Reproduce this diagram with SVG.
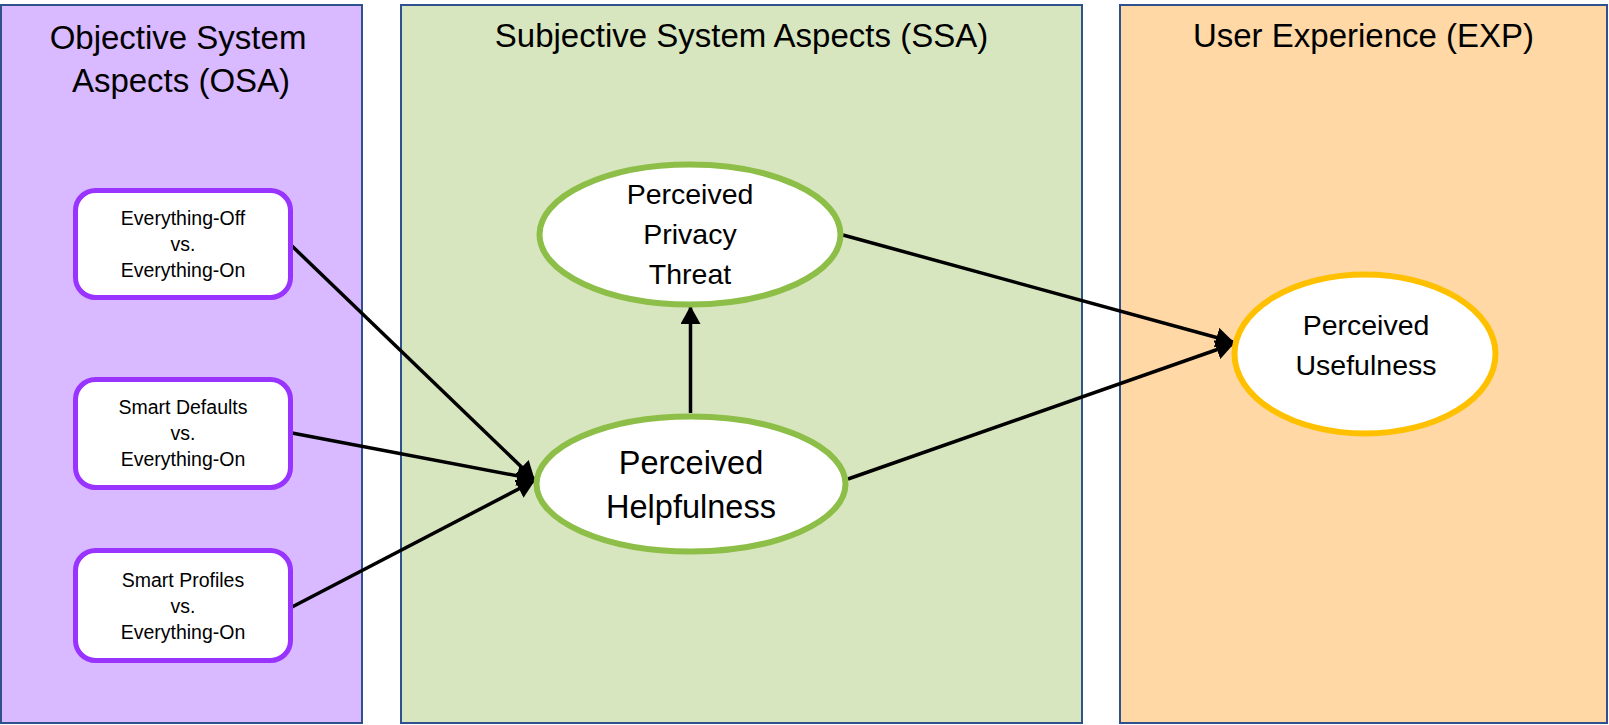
<svg xmlns="http://www.w3.org/2000/svg" width="1609" height="725" viewBox="0 0 1609 725">
<style>
.panel{stroke:#2F528F;stroke-width:2}
.title{font-family:"Liberation Sans",Arial,sans-serif;font-size:33px;fill:#000;text-anchor:middle}
.box{fill:#fff;stroke:#9933FF;stroke-width:5}
.btxt{font-family:"Liberation Sans",Arial,sans-serif;font-size:19.5px;fill:#000;text-anchor:middle}
.ell{fill:#fff;stroke:#8DBE48;stroke-width:6}
.ell2{fill:#fff;stroke:#FFC000;stroke-width:6}
.etxt{font-family:"Liberation Sans",Arial,sans-serif;fill:#000;text-anchor:middle}
.conn{stroke:#000;stroke-width:3.5;fill:none;marker-end:url(#ah)}
</style>
<defs>
<marker id="ah" viewBox="0 0 18 20" refX="17" refY="10" markerWidth="18" markerHeight="20" markerUnits="userSpaceOnUse" orient="auto">
<path d="M0,0 L18,10 L0,20 z" fill="#000"/>
</marker>
</defs>
<rect width="1609" height="725" fill="#fff"/>
<g id="panel-osa">
<rect class="panel" x="1" y="5" width="361" height="718" fill="#D9B9FF"/>
<text class="title" x="178" y="49">Objective System</text>
<text class="title" x="181" y="92">Aspects (OSA)</text>
</g>
<g id="panel-ssa">
<rect class="panel" x="401" y="5" width="681" height="718" fill="#D8E6BF"/>
<text class="title" x="741.5" y="47">Subjective System Aspects (SSA)</text>
</g>
<g id="panel-exp">
<rect class="panel" x="1120" y="5" width="487" height="718" fill="#FFD8A6"/>
<text class="title" x="1363.5" y="47">User Experience (EXP)</text>
</g>
<g id="connectors">
<line class="conn" x1="292" y1="246" x2="534" y2="479"/>
<line class="conn" x1="292" y1="433" x2="534" y2="479"/>
<line class="conn" x1="292" y1="607" x2="534" y2="481"/>
<line class="conn" x1="690.5" y1="413" x2="690.5" y2="307"/>
<line class="conn" x1="843" y1="235" x2="1233" y2="342"/>
<line class="conn" x1="848" y1="479" x2="1233" y2="344"/>
</g>
<g id="node-off">
<rect class="box" x="75.5" y="190.5" width="215" height="107" rx="20"/>
<text class="btxt" x="183" y="225">Everything-Off</text>
<text class="btxt" x="183" y="251">vs.</text>
<text class="btxt" x="183" y="277">Everything-On</text>
</g>
<g id="node-defaults">
<rect class="box" x="75.5" y="379.5" width="215" height="108" rx="20"/>
<text class="btxt" x="183" y="414">Smart Defaults</text>
<text class="btxt" x="183" y="440">vs.</text>
<text class="btxt" x="183" y="466">Everything-On</text>
</g>
<g id="node-profiles">
<rect class="box" x="75.5" y="550.5" width="215" height="110" rx="20"/>
<text class="btxt" x="183" y="587">Smart Profiles</text>
<text class="btxt" x="183" y="613">vs.</text>
<text class="btxt" x="183" y="639">Everything-On</text>
</g>
<g id="node-privacy">
<ellipse class="ell" cx="690" cy="234.5" rx="150.5" ry="70"/>
<text class="etxt" x="690" y="204" font-size="28.5">Perceived</text>
<text class="etxt" x="690" y="244" font-size="28.5">Privacy</text>
<text class="etxt" x="690" y="284" font-size="28.5">Threat</text>
</g>
<g id="node-helpfulness">
<ellipse class="ell" cx="691" cy="484" rx="154.5" ry="67.5"/>
<text class="etxt" x="691" y="474" font-size="32.5">Perceived</text>
<text class="etxt" x="691" y="518" font-size="32.5">Helpfulness</text>
</g>
<g id="node-usefulness">
<ellipse class="ell2" cx="1365" cy="354" rx="130.5" ry="79.5"/>
<text class="etxt" x="1366" y="335" font-size="28.5">Perceived</text>
<text class="etxt" x="1366" y="375" font-size="28.5">Usefulness</text>
</g>
</svg>
